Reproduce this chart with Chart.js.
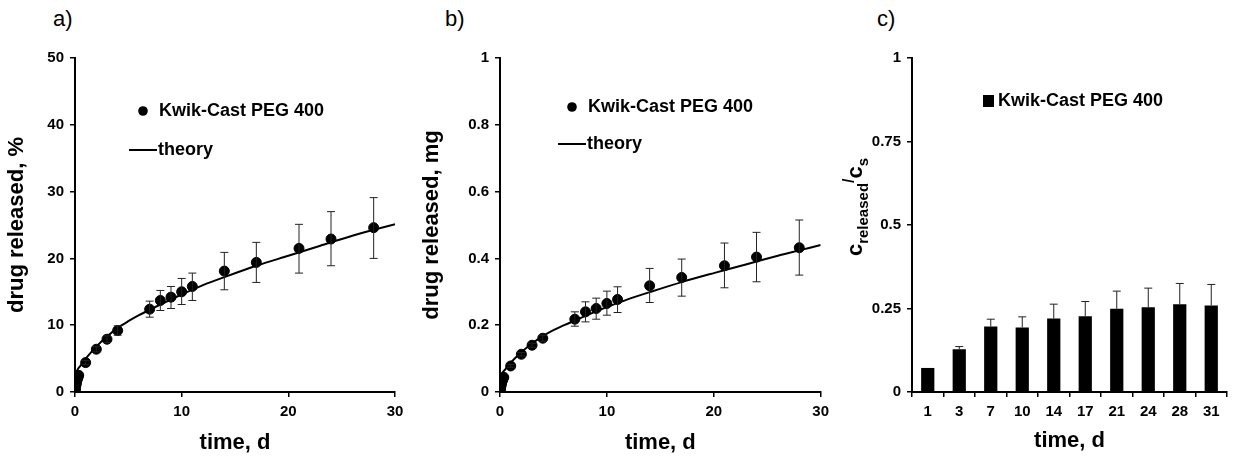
<!DOCTYPE html>
<html>
<head>
<meta charset="utf-8">
<script src="https://cdn.jsdelivr.net/npm/chart.js"></script>
<style>
  body { margin: 0; background: #fff; width: 1236px; height: 456px; position: relative; overflow: hidden; font-family: "Liberation Sans", Arial, sans-serif; }
  .box { position: absolute; top: 0; height: 456px; }
  .tag { position: absolute; top: 6px; font-size: 22px; color: #000; }
</style>
</head>
<body>
<div class="tag" style="left:53px">a)</div>
<div class="tag" style="left:445px">b)</div>
<div class="tag" style="left:877px">c)</div>
<div class="box" style="left:0;width:410px"><canvas id="chartA"></canvas></div>
<div class="box" style="left:415px;width:420px"><canvas id="chartB"></canvas></div>
<div class="box" style="left:840px;width:396px"><canvas id="chartC"></canvas></div>
<script>
// panel a) released %, panel b) released mg
var timeA = [0, 0.02, 0.04, 0.06, 0.08, 0.1, 0.13, 0.17, 0.2, 0.25, 0.3, 0.35, 1, 2, 3, 4, 7, 8, 9, 10, 11, 14, 17, 21, 24, 28];
var pctA  = [0, 0.3, 0.5, 0.8, 1.0, 1.2, 1.4, 1.7, 1.9, 2.1, 2.3, 2.5, 4.4, 6.4, 7.9, 9.2, 12.4, 13.7, 14.2, 15.0, 15.8, 18.1, 19.4, 21.5, 22.9, 24.6];
var pctLo = [0, 0.3, 0.5, 0.8, 1.0, 1.2, 1.4, 1.7, 1.9, 2.1, 2.3, 2.5, 4.1, 6.0, 7.4, 8.5, 11.2, 12.2, 12.5, 13.1, 13.7, 15.3, 16.4, 17.8, 18.9, 20.0];
var pctHi = [0, 0.3, 0.5, 0.8, 1.0, 1.2, 1.4, 1.7, 1.9, 2.1, 2.3, 2.5, 4.7, 6.8, 8.4, 9.9, 13.6, 15.2, 15.8, 17.0, 17.8, 20.9, 22.4, 25.1, 27.0, 29.1];
var mgB   = [0, 0.005, 0.009, 0.014, 0.018, 0.021, 0.025, 0.03, 0.033, 0.037, 0.041, 0.044, 0.078, 0.113, 0.14, 0.161, 0.218, 0.24, 0.25, 0.265, 0.277, 0.318, 0.343, 0.378, 0.404, 0.432];
var mgLo  = [0, 0.005, 0.009, 0.014, 0.018, 0.021, 0.025, 0.03, 0.033, 0.037, 0.041, 0.044, 0.074, 0.108, 0.134, 0.152, 0.197, 0.21, 0.218, 0.23, 0.238, 0.268, 0.287, 0.312, 0.33, 0.35];
var mgHi  = [0, 0.005, 0.009, 0.014, 0.018, 0.021, 0.025, 0.03, 0.033, 0.037, 0.041, 0.044, 0.082, 0.118, 0.146, 0.17, 0.24, 0.27, 0.281, 0.302, 0.315, 0.37, 0.398, 0.446, 0.478, 0.515];

// theory curves
var timeT = [0, 0.03, 0.1, 0.3, 0.5, 1, 2, 3, 4, 5, 6, 7, 8, 10, 12, 14, 17, 20, 23, 26, 28, 30];
var pctT  = [0, 1.8, 2.8, 3.5, 3.9, 5.0, 6.8, 8.3, 9.6, 10.6, 11.5, 12.3, 13.1, 14.6, 16.0, 17.2, 18.9, 20.4, 21.9, 23.4, 24.3, 25.1];
var mgT   = [0, 0.03, 0.048, 0.061, 0.068, 0.088, 0.119, 0.145, 0.167, 0.185, 0.2, 0.214, 0.228, 0.254, 0.278, 0.299, 0.329, 0.356, 0.382, 0.408, 0.424, 0.44];

// panel c) c_released / c_s
var daysC = ['1', '3', '7', '10', '14', '17', '21', '24', '28', '31'];
var ratioC = [0.072, 0.128, 0.196, 0.193, 0.22, 0.227, 0.249, 0.254, 0.263, 0.259];
var ratioHi = [0.075, 0.136, 0.218, 0.225, 0.263, 0.271, 0.302, 0.311, 0.325, 0.322];

var legendName = 'Kwik-Cast PEG 400';
var FONT = '"Liberation Sans", Arial, sans-serif';

Chart.defaults.font.family = FONT;
Chart.defaults.color = '#000';
Chart.defaults.animation = false;

function toXY(xs, ys) {
  return xs.map(function (x, i) { return { x: x, y: ys[i] }; });
}

// error bars through the chart's own scales
var errorBars = {
  id: 'errorBars',
  afterDatasetsDraw: function (chart, args, opts) {
    if (!opts.hi) return;
    var ctx = chart.ctx, y = chart.scales.y;
    var meta = chart.getDatasetMeta(0);
    ctx.save();
    ctx.strokeStyle = '#222';
    ctx.lineWidth = 1;
    meta.data.forEach(function (el, i) {
      var px = el.x;
      var top = y.getPixelForValue(opts.hi[i]);
      var bot = opts.lo ? y.getPixelForValue(opts.lo[i]) : el.y;
      if (Math.abs(bot - top) < 2) return;
      ctx.beginPath();
      ctx.moveTo(px, top); ctx.lineTo(px, bot);
      ctx.moveTo(px - 4, top); ctx.lineTo(px + 4, top);
      if (opts.lo) { ctx.moveTo(px - 4, bot); ctx.lineTo(px + 4, bot); }
      ctx.stroke();
    });
    ctx.restore();
  }
};

// legend placed inside the plot area
var insideLegend = {
  id: 'insideLegend',
  afterDraw: function (chart, args, opts) {
    var ctx = chart.ctx, a = chart.chartArea;
    var x = a.left + opts.x, y = a.top + opts.y;
    ctx.save();
    ctx.fillStyle = '#000';
    ctx.strokeStyle = '#000';
    ctx.font = 'bold 18px ' + FONT;
    ctx.textBaseline = 'middle';
    if (opts.bar) {
      ctx.fillRect(x, y - 6, 11, 12);
      ctx.fillText(legendName, x + 15, y);
    } else {
      ctx.beginPath(); ctx.arc(x, y, 4.8, 0, Math.PI * 2); ctx.fill();
      ctx.fillText(legendName, x + 16, y);
      ctx.lineWidth = 2;
      ctx.beginPath(); ctx.moveTo(x - 14, y + opts.gap); ctx.lineTo(x + 14, y + opts.gap); ctx.stroke();
      ctx.fillText('theory', x + 15, y + opts.gap);
    }
    ctx.restore();
  }
};

// c_released / c_s title with subscripts
var ratioTitle = {
  id: 'ratioTitle',
  afterDraw: function (chart) {
    var ctx = chart.ctx, a = chart.chartArea;
    var parts = [['c', 22, 0], ['released', 15, 6], ['/', 16, -8], ['c', 22, 0], ['s', 15, 6]];
    ctx.save();
    var w = 0;
    parts.forEach(function (p) { ctx.font = 'bold ' + p[1] + 'px ' + FONT; w += ctx.measureText(p[0]).width; });
    ctx.translate(14, (a.top + a.bottom) / 2 - 18 + w / 2);
    ctx.rotate(-Math.PI / 2);
    ctx.fillStyle = '#000';
    ctx.textBaseline = 'alphabetic';
    var cx = 0;
    parts.forEach(function (p) {
      ctx.font = 'bold ' + p[1] + 'px ' + FONT;
      ctx.fillText(p[0], cx, 8 + p[2]);
      cx += ctx.measureText(p[0]).width;
    });
    ctx.restore();
  }
};

function axis(min, max, step, title, size, fmt) {
  return {
    type: 'linear', min: min, max: max,
    ticks: { stepSize: step, font: { size: 15, weight: 'bold' }, padding: 6, callback: fmt },
    grid: { display: true, drawOnChartArea: false, color: '#000', tickLength: 5, lineWidth: 1.5 },
    border: { display: true, color: '#000', width: 2 },
    title: { display: !!title, text: title, font: { size: 22, weight: 'bold' }, padding: { top: 4, bottom: 0 } },
    afterFit: function (s) { if (size.w) s.width = size.w; if (size.h) s.height = size.h; }
  };
}

function linePanel(id, ys, lo, hi, theory, ymax, ystep, ytitle, yw, right, legendPos, fmt) {
  return new Chart(document.getElementById(id), {
    type: 'scatter',
    data: {
      datasets: [{
        data: toXY(timeA, ys),
        backgroundColor: '#000', borderColor: '#000',
        pointRadius: 5, pointHoverRadius: 5
      }, {
        data: toXY(timeT, theory),
        showLine: true, borderColor: '#000', borderWidth: 2,
        pointRadius: 0, tension: 0.3
      }]
    },
    options: {
      responsive: true, maintainAspectRatio: false,
      layout: { padding: { left: 0, top: 58, right: right, bottom: 0 } },
      plugins: {
        legend: { display: false }, tooltip: { enabled: false },
        errorBars: { lo: lo, hi: hi },
        insideLegend: legendPos
      },
      scales: {
        x: axis(0, 30, 10, 'time, d', { h: 64 }),
        y: axis(0, ymax, ystep, ytitle, { w: yw }, fmt)
      }
    },
    plugins: [errorBars, insideLegend]
  });
}

linePanel('chartA', pctA, pctLo, pctHi, pctT, 50, 10, 'drug released, %', 75, 15, { x: 68, y: 53, gap: 39 });
linePanel('chartB', mgB, mgLo, mgHi, mgT, 1, 0.2, 'drug released, mg', 85, 13, { x: 72, y: 49, gap: 37 },
  function (v) { return Math.round(v * 10) / 10; });

new Chart(document.getElementById('chartC'), {
  type: 'bar',
  data: {
    labels: daysC,
    datasets: [{ data: ratioC, backgroundColor: '#000', borderColor: '#000', barPercentage: 0.84, categoryPercentage: 0.5 }]
  },
  options: {
    responsive: true, maintainAspectRatio: false,
    layout: { padding: { left: 0, top: 58, right: 9, bottom: 0 } },
    plugins: {
      legend: { display: false }, tooltip: { enabled: false },
      errorBars: { hi: ratioHi },
      insideLegend: { x: 71, y: 43, bar: true }
    },
    scales: {
      x: {
        type: 'category',
        ticks: { font: { size: 15, weight: 'bold' }, padding: 6 },
        grid: { display: true, drawOnChartArea: false, color: '#000', tickLength: 5, lineWidth: 1.5, offset: true },
        border: { display: true, color: '#000', width: 2 },
        title: { display: true, text: 'time, d', font: { size: 22, weight: 'bold' }, padding: { top: 4, bottom: 2 } },
        afterFit: function (s) { s.height = 64; }
      },
      y: axis(0, 1, 0.25, '', { w: 72 })
    }
  },
  plugins: [errorBars, insideLegend, ratioTitle]
});
</script>
</body>
</html>
